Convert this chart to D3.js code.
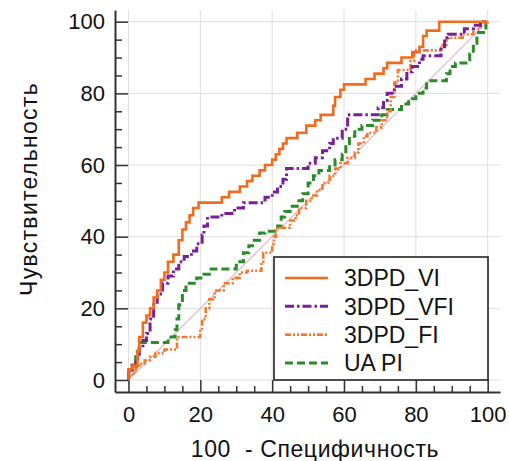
<!DOCTYPE html>
<html>
<head>
<meta charset="utf-8">
<script src="https://cdn.jsdelivr.net/npm/d3@7"></script>
<style>
  html, body { margin: 0; padding: 0; background: #fff; }
  svg { display: block; font-family: "Liberation Sans", Arial, sans-serif; }
  .title { white-space: pre; }
</style>
</head>
<body>
<svg id="chart" width="509" height="461"></svg>
<script>
// ROC curves: [100 - specificity, sensitivity] corner points of each step path
const vi = [[0,0],[0,3],[1,3],[1,4],[2.5,4],[2.5,8],[3,8],[3,12],[4,12],[4,16],[5,16],[5,18],[6,18],[6,20],[7,20],[7,23],[8,23],[8,25],[9,25],[9,28],[10,28],[10,30],[11,30],[11,33],[12.5,33],[12.5,35],[14,35],[14,39],[15,39],[15,42],[16,42],[16,44],[17,44],[17,46],[18,46],[18,48],[19.5,48],[19.5,49.5],[26,49.5],[26,51],[28,51],[28,52.5],[31,52.5],[31,54],[33,54],[33,55.5],[34.5,55.5],[34.5,57],[36.5,57],[36.5,58.5],[38,58.5],[38,60],[40,60],[40,61.5],[41,61.5],[41,63],[42,63],[42,64.5],[43,64.5],[43,66],[44,66],[44,67.5],[47,67.5],[47,69],[49.5,69],[49.5,71],[52,71],[52,72.5],[53.5,72.5],[53.5,74],[57,74],[57,76.5],[57.5,76.5],[57.5,79],[59,79],[59,81],[60,81],[60,82.5],[66,82.5],[66,84],[68.5,84],[68.5,85.5],[71,85.5],[71,87],[72,87],[72,88.5],[76,88.5],[76,90],[79,90],[79,91.5],[81,91.5],[81,93],[82,93],[82,96],[83,96],[83,97.5],[86.5,97.5],[86.5,100],[100,100]];

const vfi = [[0,0],[0,2],[1,2],[1,4],[2,4],[2,6],[3,6],[3,9],[4,9],[4,11],[5,11],[5,13],[6,13],[6,17],[7,17],[7,21],[8,21],[8,24],[9.5,24],[9.5,27],[11,27],[11,29],[12.5,29],[12.5,31],[14,31],[14,33],[15.5,33],[15.5,34.5],[17.5,34.5],[17.5,36],[19,36],[19,38],[20.5,38],[20.5,40.5],[21,40.5],[21,43],[22,43],[22,45.5],[26,45.5],[26,46.5],[29.5,46.5],[29.5,48],[32,48],[32,49.5],[38,49.5],[38,51],[40,51],[40,52.5],[41.5,52.5],[41.5,54],[43,54],[43,56],[44,56],[44,59],[50,59],[50,60.5],[52,60.5],[52,62],[54,62],[54,64],[56,64],[56,66],[57,66],[57,67.5],[59.5,67.5],[59.5,70],[61,70],[61,74],[69.5,74],[69.5,76],[71,76],[71,78],[72,78],[72,80],[74,80],[74,82],[76,82],[76,84],[77.5,84],[77.5,86],[79,86],[79,87.5],[81,87.5],[81,89.5],[82,89.5],[82,90.5],[87,90.5],[87,93],[88,93],[88,95.5],[89,95.5],[89,96.5],[93.5,96.5],[93.5,98],[96,98],[96,99],[98,99],[98,100],[100,100]];

const fi = [[0,0],[0,1],[1,1],[1,2],[2,2],[2,3.5],[3,3.5],[3,4.5],[4.5,4.5],[4.5,5.5],[6,5.5],[6,6.5],[7.5,6.5],[7.5,7.5],[10,7.5],[10,8.5],[13.5,8.5],[13.5,12],[20,12],[20,14],[20.5,14],[20.5,17],[21.5,17],[21.5,20],[22.5,20],[22.5,22.5],[24,22.5],[24,25],[26.5,25],[26.5,27],[29,27],[29,28.5],[31,28.5],[31,30],[33,30],[33,30.5],[37,30.5],[37,33],[37.5,33],[37.5,35.5],[40,35.5],[40,38],[40.5,38],[40.5,40],[41,40],[41,42.5],[45,42.5],[45,44.5],[46.5,44.5],[46.5,46],[47.5,46],[47.5,48],[49.5,48],[49.5,50],[51,50],[51,51.5],[52.5,51.5],[52.5,53],[54,53],[54,55],[56,55],[56,57],[57.5,57],[57.5,59],[59,59],[59,60.5],[61,60.5],[61,62],[63,62],[63,63.5],[64,63.5],[64,66],[65.5,66],[65.5,68],[66.5,68],[66.5,69],[69,69],[69,70.5],[70.5,70.5],[70.5,72.5],[72,72.5],[72,75],[73,75],[73,79],[74,79],[74,83],[75,83],[75,86.5],[78.5,86.5],[78.5,89],[79.5,89],[79.5,92],[87,92],[87,93.5],[88.5,93.5],[88.5,95.5],[93,95.5],[93,96.5],[96,96.5],[96,98],[98,98],[98,99.5],[100,99.5],[100,100]];

const uaPi = [[0,0],[0,2],[1,2],[1,5],[2,5],[2,8],[3,8],[3,10.5],[11,10.5],[11,12],[13,12],[13,14],[13.5,14],[13.5,17],[14,17],[14,21],[15,21],[15,25],[16,25],[16,27],[19,27],[19,28.5],[21,28.5],[21,29.5],[23,29.5],[23,31],[30,31],[30,33],[32,33],[32,35.5],[33.5,35.5],[33.5,37.5],[35,37.5],[35,39],[36.5,39],[36.5,41],[38,41],[38,41.5],[41.5,41.5],[41.5,43],[42.5,43],[42.5,45.5],[43.5,45.5],[43.5,47],[45,47],[45,48.5],[47,48.5],[47,50],[48.5,50],[48.5,52],[50,52],[50,55],[51.5,55],[51.5,57],[53,57],[53,58.5],[56,58.5],[56,60],[57.5,60],[57.5,61.5],[59.5,61.5],[59.5,63],[60.5,63],[60.5,66],[61.5,66],[61.5,68],[63,68],[63,70],[65,70],[65,71],[68,71],[68,72.5],[70.5,72.5],[70.5,74],[72,74],[72,75.5],[76,75.5],[76,77],[78,77],[78,78.5],[80,78.5],[80,80],[82,80],[82,81.5],[83,81.5],[83,83.5],[88.5,83.5],[88.5,85.5],[89.5,85.5],[89.5,87.5],[91,87.5],[91,88.5],[95,88.5],[95,91],[96,91],[96,94],[97,94],[97,97],[99.5,97],[99.5,100],[100,100]];

const seriesNames = ["3DPD_VI", "3DPD_VFI", "3DPD_FI", "UA PI"];
const majorTicks = [0, 20, 40, 60, 80, 100];
const minorTicks = [5, 10, 15, 25, 30, 35, 45, 50, 55, 65, 70, 75, 85, 90, 95];
const xTitle = "100  - Специфичность";
const yTitle = "Чувствительность";

const svg = d3.select("#chart");

const x = d3.scaleLinear().domain([0, 100]).range([128.5, 487.7]);
const y = d3.scaleLinear().domain([0, 100]).range([380, 21.7]);

// axes sit slightly outside the 0..100 data range
const axisX0 = 115, axisY0 = 392;
const xAxisScale = d3.scaleLinear().domain([x.invert(axisX0), x.invert(500)]).range([axisX0, 500]);
const yAxisScale = d3.scaleLinear().domain([y.invert(axisY0), y.invert(10)]).range([axisY0, 10]);

// grid
const grid = svg.append("g").attr("stroke", "#dedede").attr("stroke-width", 1);
grid.selectAll("line.v").data(majorTicks).join("line")
  .attr("x1", d => x(d)).attr("x2", d => x(d))
  .attr("y1", 10).attr("y2", axisY0);
grid.selectAll("line.h").data(majorTicks).join("line")
  .attr("x1", axisX0).attr("x2", 500)
  .attr("y1", d => y(d)).attr("y2", d => y(d));

// reference diagonal
svg.append("line")
  .attr("x1", x(0)).attr("y1", y(0)).attr("x2", x(100)).attr("y2", y(100))
  .attr("stroke", "#dcbcc6").attr("stroke-width", 1.2);

const styles = [
  { data: vi,   color: "#f26a1b", dash: null,              width: 2.6 },
  { data: vfi,  color: "#7a1f96", dash: "9,3,2.5,3",       width: 3 },
  { data: fi,   color: "#f4792e", dash: "6,2,2,2,2,2",     width: 2.6 },
  { data: uaPi, color: "#2b8a2b", dash: "8,4",             width: 3 }
];

const line = d3.line().x(d => x(d[0])).y(d => y(d[1]));

// draw in reverse so the solid curve stays on top
styles.slice().reverse().forEach(s => {
  svg.append("path")
    .datum(s.data)
    .attr("d", line)
    .attr("fill", "none")
    .attr("stroke", s.color)
    .attr("stroke-width", s.width)
    .attr("stroke-dasharray", s.dash)
    .attr("stroke-linejoin", "miter");
});

// axes
const tickFont = 22;
const labelFont = 23;
function styleAxis(g) {
  g.selectAll("text").attr("font-size", tickFont).attr("fill", "#111")
    .attr("font-family", "'Liberation Sans', Arial, sans-serif");
  g.selectAll("line").attr("stroke", "#333").attr("stroke-width", 1.5);
  g.select(".domain").attr("stroke", "#333").attr("stroke-width", 2);
}

const yAxis = svg.append("g").attr("transform", `translate(${axisX0},0)`)
  .call(d3.axisLeft(yAxisScale).tickValues(majorTicks).tickSize(-13).tickSizeOuter(0).tickPadding(10).tickFormat(d3.format("d")));
styleAxis(yAxis);
const yMinor = svg.append("g").attr("transform", `translate(${axisX0},0)`)
  .call(d3.axisLeft(yAxisScale).tickValues(minorTicks).tickSize(-7).tickSizeOuter(0).tickFormat(""));
styleAxis(yMinor);
yMinor.select(".domain").remove();

const xAxis = svg.append("g").attr("transform", `translate(0,${axisY0})`)
  .call(d3.axisBottom(xAxisScale).tickValues(majorTicks).tickSize(-12).tickSizeOuter(0).tickPadding(14).tickFormat(d3.format("d")));
styleAxis(xAxis);
const xMinor = svg.append("g").attr("transform", `translate(0,${axisY0})`)
  .call(d3.axisBottom(xAxisScale).tickValues(minorTicks).tickSize(-6).tickSizeOuter(0).tickFormat(""));
styleAxis(xMinor);
xMinor.select(".domain").remove();

// axis titles
svg.append("text")
  .attr("class", "title")
  .attr("x", 315).attr("y", 457)
  .attr("text-anchor", "middle")
  .attr("font-size", labelFont).attr("letter-spacing", 0.6).attr("fill", "#111")
  .text(xTitle);
svg.append("text")
  .attr("class", "title")
  .attr("transform", "translate(37,189) rotate(-90)")
  .attr("text-anchor", "middle")
  .attr("font-size", labelFont).attr("letter-spacing", 1.3).attr("fill", "#111")
  .text(yTitle);

// legend
const legend = svg.append("g");
legend.append("rect")
  .attr("x", 274).attr("y", 257).attr("width", 214).attr("height", 123)
  .attr("fill", "#fff").attr("stroke", "#222").attr("stroke-width", 1.6);
const rowY = d3.scalePoint().domain(seriesNames).range([278, 363]);
seriesNames.forEach((name, i) => {
  const s = styles[i];
  legend.append("line")
    .attr("x1", 285).attr("x2", 328)
    .attr("y1", rowY(name)).attr("y2", rowY(name))
    .attr("stroke", s.color).attr("stroke-width", s.width)
    .attr("stroke-dasharray", s.dash);
  legend.append("text")
    .attr("x", 344).attr("y", rowY(name)).attr("dy", "0.36em")
    .attr("font-size", labelFont).attr("fill", "#111")
    .text(name);
});
</script>
</body>
</html>
